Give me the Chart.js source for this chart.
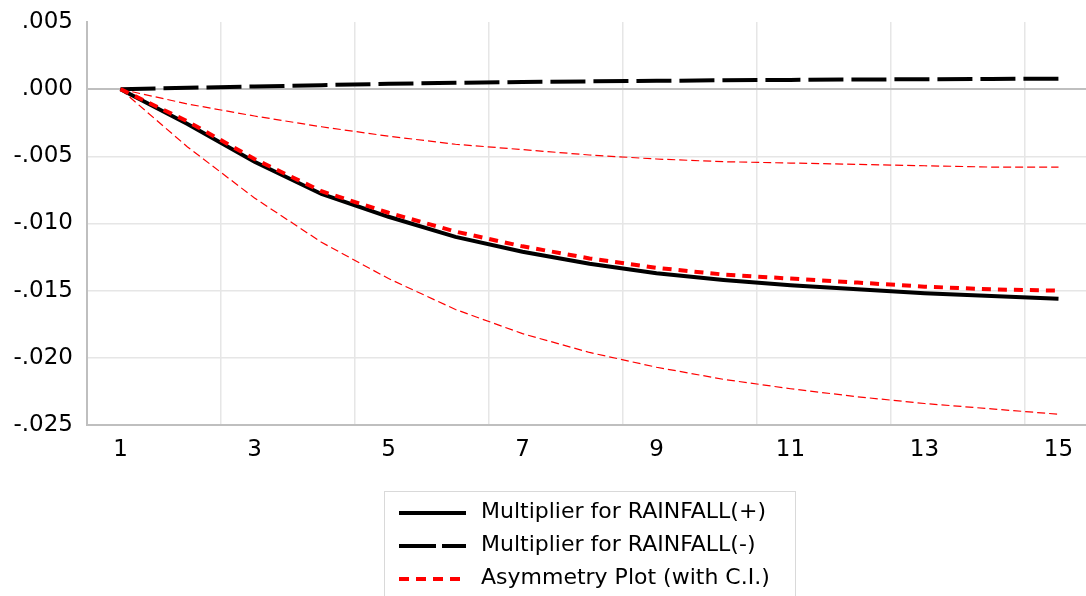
<!DOCTYPE html>
<html>
<head>
<meta charset="utf-8">
<title>Dynamic multipliers - RAINFALL</title>
<script src="https://cdn.jsdelivr.net/npm/chart.js@4.4.1/dist/chart.umd.min.js"></script>
<style>
  html, body { margin: 0; padding: 0; background: #fff; overflow: hidden; }
  #wrap { position: relative; width: 1094px; height: 596px; }
</style>
</head>
<body>
<div id="wrap"><canvas id="multChart"></canvas></div>
<script>
// horizon (periods after the shock)
const periods = ['1', '2', '3', '4', '5', '6', '7', '8', '9', '10', '11', '12', '13', '14', '15'];

// cumulative dynamic multipliers
const rainPos = [0, -0.0026, -0.0054, -0.0078, -0.0095, -0.0110, -0.0121, -0.0130, -0.0137, -0.0142, -0.0146, -0.0149, -0.0152, -0.0154, -0.0156];
const rainNeg = [0, 0.0001, 0.0002, 0.0003, 0.0004, 0.00047, 0.00053, 0.00058, 0.00062, 0.00066, 0.00069, 0.00072, 0.00074, 0.00076, 0.00078];
const asymmetry = [0, -0.0024, -0.0052, -0.0076, -0.0092, -0.0106, -0.0117, -0.0126, -0.0133, -0.0138, -0.0141, -0.0144, -0.0147, -0.0149, -0.0150];

// confidence band round the asymmetry line
const ciUpper = [0, -0.0011, -0.0020, -0.0028, -0.0035, -0.0041, -0.0045, -0.0049, -0.0052, -0.0054, -0.0055, -0.0056, -0.0057, -0.0058, -0.0058];
const ciLower = [0, -0.0043, -0.0081, -0.0114, -0.0141, -0.0164, -0.0182, -0.0196, -0.0207, -0.0216, -0.0223, -0.0229, -0.0234, -0.0238, -0.0242];

const yMin = -0.025;
const yMax = 0.005;
const yStep = 0.005;

const FONT = '"DejaVu Sans", Verdana, sans-serif';

// ".005" / "-.010" style labels, no leading zero
function fmtTick(v) {
  const s = Number(v).toFixed(3);
  return s.replace('0.', '.');
}

// boxed legend under the plot, only the three main entries
const boxLegend = {
  id: 'boxLegend',
  afterDraw(chart) {
    const ctx = chart.ctx;
    const items = chart.data.datasets.filter(d => d.inLegend);
    ctx.save();
    ctx.strokeStyle = '#d9d9d9';
    ctx.lineWidth = 1;
    ctx.strokeRect(384.5, 491.5, 411, 130);
    items.forEach((ds, i) => {
      const y = 513 + i * 33;
      ctx.beginPath();
      ctx.setLineDash(ds.legendDash || ds.borderDash || []);
      ctx.strokeStyle = ds.borderColor;
      ctx.lineWidth = ds.borderWidth;
      ctx.moveTo(399, y);
      ctx.lineTo(466, y);
      ctx.stroke();
      ctx.setLineDash([]);
      ctx.fillStyle = '#000';
      ctx.font = '22px ' + FONT;
      ctx.textBaseline = 'middle';
      ctx.fillText(ds.label, 481, y - 1);
    });
    ctx.restore();
  }
};

const lineBase = { pointRadius: 0, pointHoverRadius: 0, tension: 0, fill: false };

new Chart(document.getElementById('multChart'), {
  type: 'line',
  data: {
    labels: periods,
    datasets: [
      Object.assign({}, lineBase, {
        label: 'Multiplier for RAINFALL(+)',
        data: rainPos,
        borderColor: '#000',
        borderWidth: 4,
        order: 1,
        inLegend: true
      }),
      Object.assign({}, lineBase, {
        label: 'Multiplier for RAINFALL(-)',
        data: rainNeg,
        borderColor: '#000',
        borderWidth: 4,
        borderDash: [35, 8],
        legendDash: [37, 6],
        order: 2,
        inLegend: true
      }),
      Object.assign({}, lineBase, {
        label: 'Asymmetry Plot (with C.I.)',
        data: asymmetry,
        borderColor: '#ff0000',
        borderWidth: 4,
        borderDash: [9, 7],
        legendDash: [10, 7],
        order: 0,
        inLegend: true
      }),
      Object.assign({}, lineBase, {
        label: 'Upper C.I.',
        data: ciUpper,
        borderColor: '#ff0000',
        borderWidth: 1.2,
        borderDash: [8, 4],
        order: 3
      }),
      Object.assign({}, lineBase, {
        label: 'Lower C.I.',
        data: ciLower,
        borderColor: '#ff0000',
        borderWidth: 1.2,
        borderDash: [8, 4],
        order: 3
      })
    ]
  },
  options: {
    responsive: true,
    maintainAspectRatio: false,
    animation: false,
    layout: { padding: { top: 22, right: 2, bottom: 131, left: 0 } },
    plugins: {
      legend: { display: false },
      tooltip: { enabled: false }
    },
    scales: {
      x: {
        type: 'category',
        offset: true,
        grid: {
          offset: true,
          drawTicks: false,
          lineWidth: 1.5,
          color: ctx => (ctx.index !== undefined && ctx.index % 2 === 0) ? '#e6e6e6' : 'rgba(0,0,0,0)'
        },
        border: { color: '#bfbfbf', width: 2 },
        ticks: {
          autoSkip: false,
          maxRotation: 0,
          padding: 11,
          color: '#000',
          font: { family: FONT, size: 23 },
          callback: (val, i) => (i % 2 === 0 ? periods[i] : '')
        },
        afterFit: scale => { scale.height = 40; }
      },
      y: {
        min: yMin,
        max: yMax,
        grid: {
          drawTicks: false,
          lineWidth: ctx => (ctx.tick && Math.abs(ctx.tick.value) < 1e-9) ? 2 : 1.5,
          color: ctx => {
            if (!ctx.tick) return 'rgba(0,0,0,0)';
            const v = ctx.tick.value;
            if (Math.abs(v) < 1e-9) return '#bfbfbf';
            if (v > yMax - 1e-9) return 'rgba(0,0,0,0)';
            return '#e6e6e6';
          }
        },
        border: { color: '#bfbfbf', width: 2 },
        ticks: {
          stepSize: yStep,
          padding: 14,
          color: '#000',
          font: { family: FONT, size: 23 },
          callback: v => fmtTick(v)
        },
        afterFit: scale => {
          scale.width = 87;
          // top label may overhang; the layout padding already leaves room
          scale.paddingTop = 0;
          scale.paddingBottom = 0;
        }
      }
    }
  },
  plugins: [boxLegend]
});
</script>
</body>
</html>
